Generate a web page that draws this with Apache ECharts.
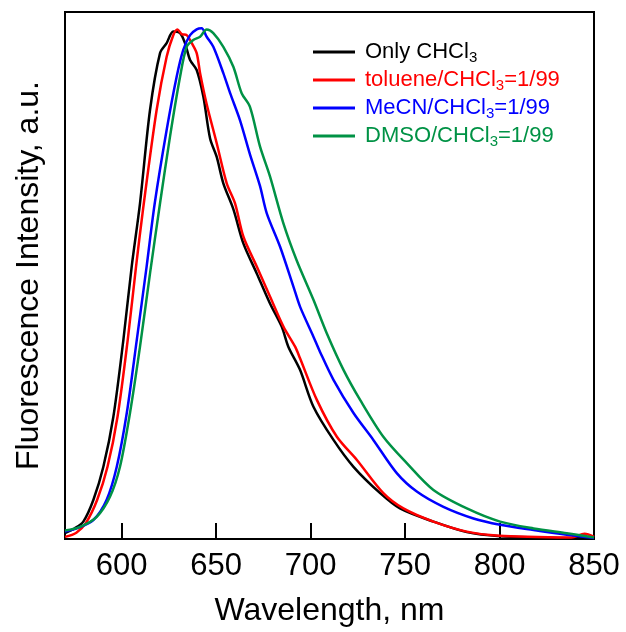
<!DOCTYPE html>
<html><head><meta charset="utf-8">
<script src="https://cdn.jsdelivr.net/npm/echarts@6/dist/echarts.min.js"></script>
<style>html,body{margin:0;padding:0;background:#fff}#c{width:626px;height:632px}</style>
</head><body><div id="c"></div>
<script>
const seriesNames = ['Only CHCl3', 'toluene/CHCl3=1/99', 'MeCN/CHCl3=1/99', 'DMSO/CHCl3=1/99'];
const seriesColors = ['#000000', '#ff0000', '#0000ff', '#009245'];
const xTicks = [600, 650, 700, 750, 800, 850];

const chcl3Wl = [570, 575, 579.7, 585, 590.3, 595.6, 600.9, 605.3, 609.7, 615, 620.3, 623.8, 627.3, 630.9, 633.5, 636.2, 639.7, 643.2, 646.8, 650.3, 653.8, 659.1, 664.4, 671.5, 678.5, 684.7, 688.2, 694.4, 701.5, 712.1, 722.7, 736.8, 747.3, 765, 782.7, 800.3, 820, 850];
const chcl3Int = [0.011, 0.020, 0.033, 0.074, 0.137, 0.232, 0.378, 0.517, 0.637, 0.814, 0.922, 0.941, 0.963, 0.960, 0.941, 0.909, 0.890, 0.840, 0.760, 0.725, 0.675, 0.626, 0.561, 0.504, 0.447, 0.403, 0.365, 0.321, 0.251, 0.188, 0.137, 0.087, 0.058, 0.033, 0.013, 0.005, 0.003, 0.001];

const tolWl = [570, 576, 581, 587, 592.5, 597.8, 603.2, 607.6, 611.5, 618.5, 623.8, 627.3, 629.5, 631.8, 634.4, 637.1, 639.7, 641.5, 645, 650.3, 655.6, 660, 664.4, 671.5, 678.5, 685.6, 691.8, 694.4, 703.3, 713.9, 724.5, 738.5, 749.1, 765, 782.7, 800, 820, 838, 845, 850];
const tolInt = [0.004, 0.012, 0.030, 0.074, 0.137, 0.232, 0.378, 0.517, 0.631, 0.814, 0.915, 0.956, 0.967, 0.958, 0.956, 0.941, 0.922, 0.884, 0.825, 0.751, 0.675, 0.637, 0.574, 0.517, 0.460, 0.403, 0.365, 0.343, 0.264, 0.194, 0.150, 0.087, 0.058, 0.033, 0.014, 0.006, 0.004, 0.003, 0.010, 0.004];

const mecnWl = [570, 576.2, 585, 592, 597.4, 602.7, 608, 613.2, 617.5, 623.8, 629.1, 632.6, 636.2, 639.7, 642.3, 645, 648.5, 653.8, 657.4, 662.6, 667.9, 673.2, 676.8, 683.8, 690.9, 694.4, 701.5, 705, 712.1, 722.7, 733.2, 745.6, 756.2, 770.3, 786.2, 800.3, 818, 835.6, 850];
const mecnInt = [0.014, 0.020, 0.036, 0.074, 0.137, 0.239, 0.378, 0.517, 0.637, 0.776, 0.877, 0.928, 0.956, 0.967, 0.969, 0.953, 0.934, 0.884, 0.846, 0.795, 0.730, 0.670, 0.618, 0.555, 0.479, 0.441, 0.384, 0.355, 0.302, 0.239, 0.188, 0.125, 0.090, 0.061, 0.039, 0.027, 0.017, 0.008, 0.002];

const dmsoWl = [570, 578, 586.8, 593.8, 599.1, 604.4, 609.7, 615, 620.3, 625.6, 630.9, 634.4, 637.9, 641.5, 645, 648.5, 653.8, 659.1, 663.5, 667.9, 673.2, 678.5, 685.6, 692.6, 701.5, 708.6, 717.4, 726.2, 738.5, 750.9, 765, 782.7, 800.3, 818, 835.6, 850];
const dmsoInt = [0.016, 0.023, 0.042, 0.080, 0.137, 0.239, 0.365, 0.504, 0.637, 0.764, 0.877, 0.934, 0.947, 0.953, 0.967, 0.960, 0.934, 0.896, 0.846, 0.820, 0.745, 0.688, 0.599, 0.529, 0.454, 0.390, 0.321, 0.264, 0.194, 0.144, 0.093, 0.058, 0.033, 0.020, 0.011, 0.003];

const allWl = [chcl3Wl, tolWl, mecnWl, dmsoWl];
const allInt = [chcl3Int, tolInt, mecnInt, dmsoInt];

const FONT = '"Liberation Sans", Arial, sans-serif';
const richKeys = ['k', 'r', 'b', 'g'];
const rich = { sp: { width: 5, fontSize: 10 } };
richKeys.forEach((k, i) => {
  rich[k] = { color: seriesColors[i], fontSize: 22, fontFamily: FONT, lineHeight: 26, verticalAlign: 'middle' };
  rich[k + 's'] = { color: seriesColors[i], fontSize: 15, fontFamily: FONT, lineHeight: 15, verticalAlign: 'bottom' };
});

const chart = echarts.init(document.getElementById('c'), null, { renderer: 'canvas' });
chart.setOption({
  animation: false,
  backgroundColor: '#fff',
  grid: { left: 65, right: 32, top: 12, bottom: 93, show: true, borderColor: '#000', borderWidth: 2, backgroundColor: 'transparent' },
  legend: {
    orient: 'vertical', left: 308, top: 36, itemWidth: 42, itemHeight: 3, itemGap: 4, icon: 'rect',
    data: seriesNames.map(n => ({ name: n })),
    formatter: function (name) {
      const i = seriesNames.indexOf(name);
      const k = richKeys[i];
      const parts = name.split('CHCl3');
      let s = '{sp| }{' + k + '|' + parts[0] + 'CHCl}{' + k + 's|3}';
      if (parts[1]) s += '{' + k + '|' + parts[1] + '}';
      return s;
    },
    textStyle: { rich: rich, fontFamily: FONT, fontSize: 22 }
  },
  xAxis: {
    type: 'value', min: 570, max: 850,
    axisLine: { show: true, lineStyle: { color: '#000', width: 2 } },
    axisTick: { show: true, inside: true, length: 16, lineStyle: { color: '#000', width: 2 }, customValues: xTicks },
    axisLabel: { customValues: xTicks, fontSize: 31, color: '#000', margin: 12, fontFamily: FONT },
    splitLine: { show: false },
    name: 'Wavelength, nm', nameLocation: 'middle', nameGap: 56,
    nameTextStyle: { fontSize: 32, color: '#000', fontFamily: FONT }
  },
  yAxis: {
    type: 'value', min: 0, max: 1,
    axisLine: { show: true, lineStyle: { color: '#000', width: 2 } },
    axisTick: { show: false }, axisLabel: { show: false }, splitLine: { show: false },
    name: 'Fluorescence Intensity, a.u.', nameLocation: 'middle', nameGap: 20,
    nameTextStyle: { fontSize: 32, color: '#000', fontFamily: FONT }
  },
  series: seriesNames.map((n, i) => ({
    name: n, type: 'line', symbol: 'none', showSymbol: false, smooth: 0.3,
    color: seriesColors[i],
    lineStyle: { color: seriesColors[i], width: 2.5 },
    data: allWl[i].map((w, j) => [w, allInt[i][j]])
  }))
});
</script>
</body></html>
